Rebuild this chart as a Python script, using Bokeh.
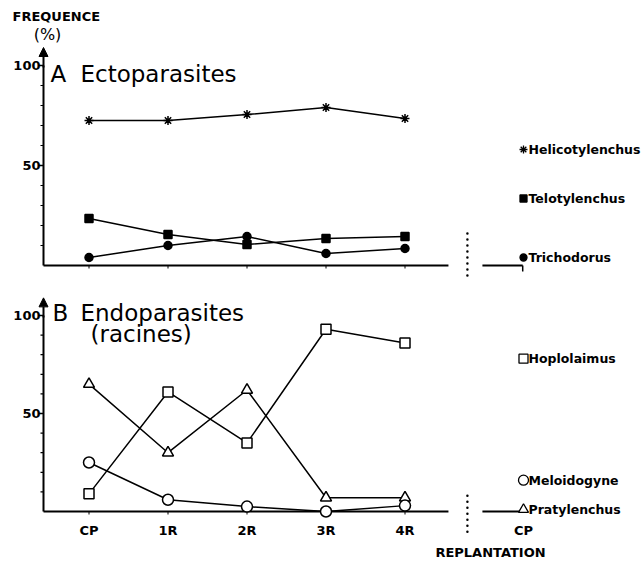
from bokeh.plotting import figure
from bokeh.layouts import column
from bokeh.models import Range1d, Arrow, NormalHead
from bokeh.core.properties import value
from bokeh.embed import file_html
from bokeh.resources import INLINE

# ---------------- data ----------------
stages = ["CP", "1R", "2R", "3R", "4R"]
replant_stage = "CP"
replant_caption = "REPLANTATION"
y_title = "FREQUENCE"
y_unit = "(%)"
y_major = [50, 100]
y_major_labels = ["50", "100"]
y_minor = [10, 20, 30, 40, 60, 70, 80, 90]

# A - Ectoparasites (%)
helicotylenchus = [72.5, 72.5, 75.5, 79, 73.5]
telotylenchus = [23.5, 15.5, 10.5, 13.5, 14.5]
trichodorus = [4, 10, 14.5, 6, 8.5]

# B - Endoparasites (racines) (%)
hoplolaimus = [9, 61, 35, 93, 86]
pratylenchus = [65, 30, 62, 7, 7]
meloidogyne = [25, 6, 2.5, 0, 3]

ecto_names = ["Helicotylenchus", "Telotylenchus", "Trichodorus"]
endo_names = ["Hoplolaimus", "Meloidogyne", "Pratylenchus"]

# ---------------- layout ----------------
FONT = value("DejaVu Sans")
xs = list(range(len(stages)))
x_rep = len(stages) + 0.5
PX = 1 / 79.0           # one pixel in x data units
X0, X1 = -88.5 * PX, (644 - 88.5) * PX
AX = -45.5 * PX          # y-axis position


def base_fig(height, y0, y1, ypx):
    p = figure(width=644, height=height, output_backend="svg", toolbar_location=None,
               x_range=Range1d(X0, X1), y_range=Range1d(y0, y1),
               min_border_left=0, min_border_right=0, min_border_top=0, min_border_bottom=0)
    p.axis.visible = False
    p.grid.visible = False
    p.outline_line_color = None
    p.background_fill_color = "white"
    # y axis drawn through the data scales
    p.segment(x0=[AX], y0=[0], x1=[AX], y1=[100], line_width=2, line_color="black")
    p.segment(x0=[AX] * len(y_major), y0=y_major, x1=[AX - 5 * PX] * len(y_major), y1=y_major,
              line_width=1.5, line_color="black")
    p.segment(x0=[AX] * len(y_minor), y0=y_minor, x1=[AX - 3 * PX] * len(y_minor), y1=y_minor,
              line_width=1.2, line_color="black")
    p.text(x=[AX - 3 * PX] * len(y_major), y=y_major, text=y_major_labels, text_font=FONT,
           text_font_size="13px", text_font_style="bold", text_align="right",
           text_baseline="middle", text_color="black")
    p.add_layout(Arrow(end=NormalHead(size=9, fill_color="black", line_color="black"),
                       x_start=AX, y_start=99, x_end=AX, y_end=109,
                       line_width=2, line_color="black"))
    # broken baseline
    p.segment(x0=[AX, 4.98], y0=[0, 0], x1=[4.55, 5.49], y1=[0, 0], line_width=2, line_color="black")
    p.segment(x0=xs, y0=[0] * len(xs), x1=xs, y1=[-3 * ypx] * len(xs), line_width=1, line_color="black")
    return p


# ---------- Panel A ----------
ypxA = 0.5
pA = base_fig(281, -8, 132.5, ypxA)
pA.segment(x0=[5.49], y0=[0], x1=[5.49], y1=[-3], line_width=1.5, line_color="black")
pA.segment(x0=[4.79], y0=[16], x1=[4.79], y1=[-8], line_width=2.5, line_color="black",
           line_dash="0 6", line_cap="round")

for ys, mk, sz in [(helicotylenchus, "asterisk", 9), (telotylenchus, "square", 8), (trichodorus, "circle", 8)]:
    pA.line(xs, ys, line_width=1.5, line_color="black")
    pA.scatter(xs, ys, marker=mk, size=sz, line_color="black", fill_color="black", line_width=1.5)

legA_y = [58, 33.5, 4]
for yy, mk, sz in zip(legA_y, ["asterisk", "square", "circle"], [8, 7, 7]):
    pA.scatter([x_rep], [yy], marker=mk, size=sz, line_color="black", fill_color="black", line_width=1.3)
pA.text(x=[x_rep + 5 * PX] * 3, y=legA_y, text=ecto_names, text_font=FONT, text_font_size="12.5px",
        text_font_style="bold", text_baseline="middle", text_align="left", text_color="black")

pA.text(x=[-38.5 * PX], y=[96], text=["A"], text_font=FONT, text_font_size="23px",
        text_baseline="middle", text_color="black")
pA.text(x=[-8.5 * PX], y=[96], text=["Ectoparasites"], text_font=FONT, text_font_size="23px",
        text_baseline="middle", text_color="black")
pA.text(x=[-76.5 * PX], y=[124.5], text=[y_title], text_font=FONT, text_font_size="13px",
        text_font_style="bold", text_baseline="middle", text_color="black")
pA.text(x=[-41.5 * PX], y=[115.5], text=[y_unit], text_font=FONT, text_font_size="16px",
        text_align="center", text_baseline="middle", text_color="black")

# ---------- Panel B ----------
ypxB = 1 / 1.96
pB = base_fig(285, -28.06, 117.35, ypxB)
pB.segment(x0=[4.79], y0=[8], x1=[4.79], y1=[-13], line_width=2.5, line_color="black",
           line_dash="0 6", line_cap="round")

series_B = [(pratylenchus, "triangle", 11), (hoplolaimus, "square", 10), (meloidogyne, "circle", 11)]
for ys, mk, sz in series_B:
    pB.line(xs, ys, line_width=1.5, line_color="black")
for ys, mk, sz in series_B:
    pB.scatter(xs, ys, marker=mk, size=sz, line_color="black", fill_color="white", line_width=1.5)

legB_y = [78, 16, 1]
for yy, mk, sz in zip(legB_y, ["square", "circle", "triangle"], [9, 10, 10]):
    pB.scatter([x_rep], [yy], marker=mk, size=sz, line_color="black", fill_color="white", line_width=1.3)
pB.text(x=[x_rep + 5 * PX] * 3, y=legB_y, text=endo_names, text_font=FONT, text_font_size="12.5px",
        text_font_style="bold", text_baseline="middle", text_align="left", text_color="black")

pB.text(x=xs + [x_rep], y=[-19 * ypxB] * (len(xs) + 1), text=stages + [replant_stage], text_font=FONT,
        text_font_size="13px", text_font_style="bold", text_align="center", text_baseline="middle",
        text_color="black")
pB.text(x=[401.5 * PX], y=[-41 * ypxB], text=[replant_caption], text_font=FONT, text_font_size="13px",
        text_font_style="bold", text_align="center", text_baseline="middle", text_color="black")

pB.text(x=[-36.5 * PX], y=[101.5], text=["B"], text_font=FONT, text_font_size="23px",
        text_baseline="middle", text_color="black")
pB.text(x=[-8.5 * PX], y=[101.5], text=["Endoparasites"], text_font=FONT, text_font_size="23px",
        text_baseline="middle", text_color="black")
pB.text(x=[1.5 * PX], y=[90.8], text=["(racines)"], text_font=FONT, text_font_size="23px",
        text_baseline="middle", text_color="black")

layout = column(pA, pB, spacing=0)
open("out.html", "w").write(file_html(layout, INLINE))
